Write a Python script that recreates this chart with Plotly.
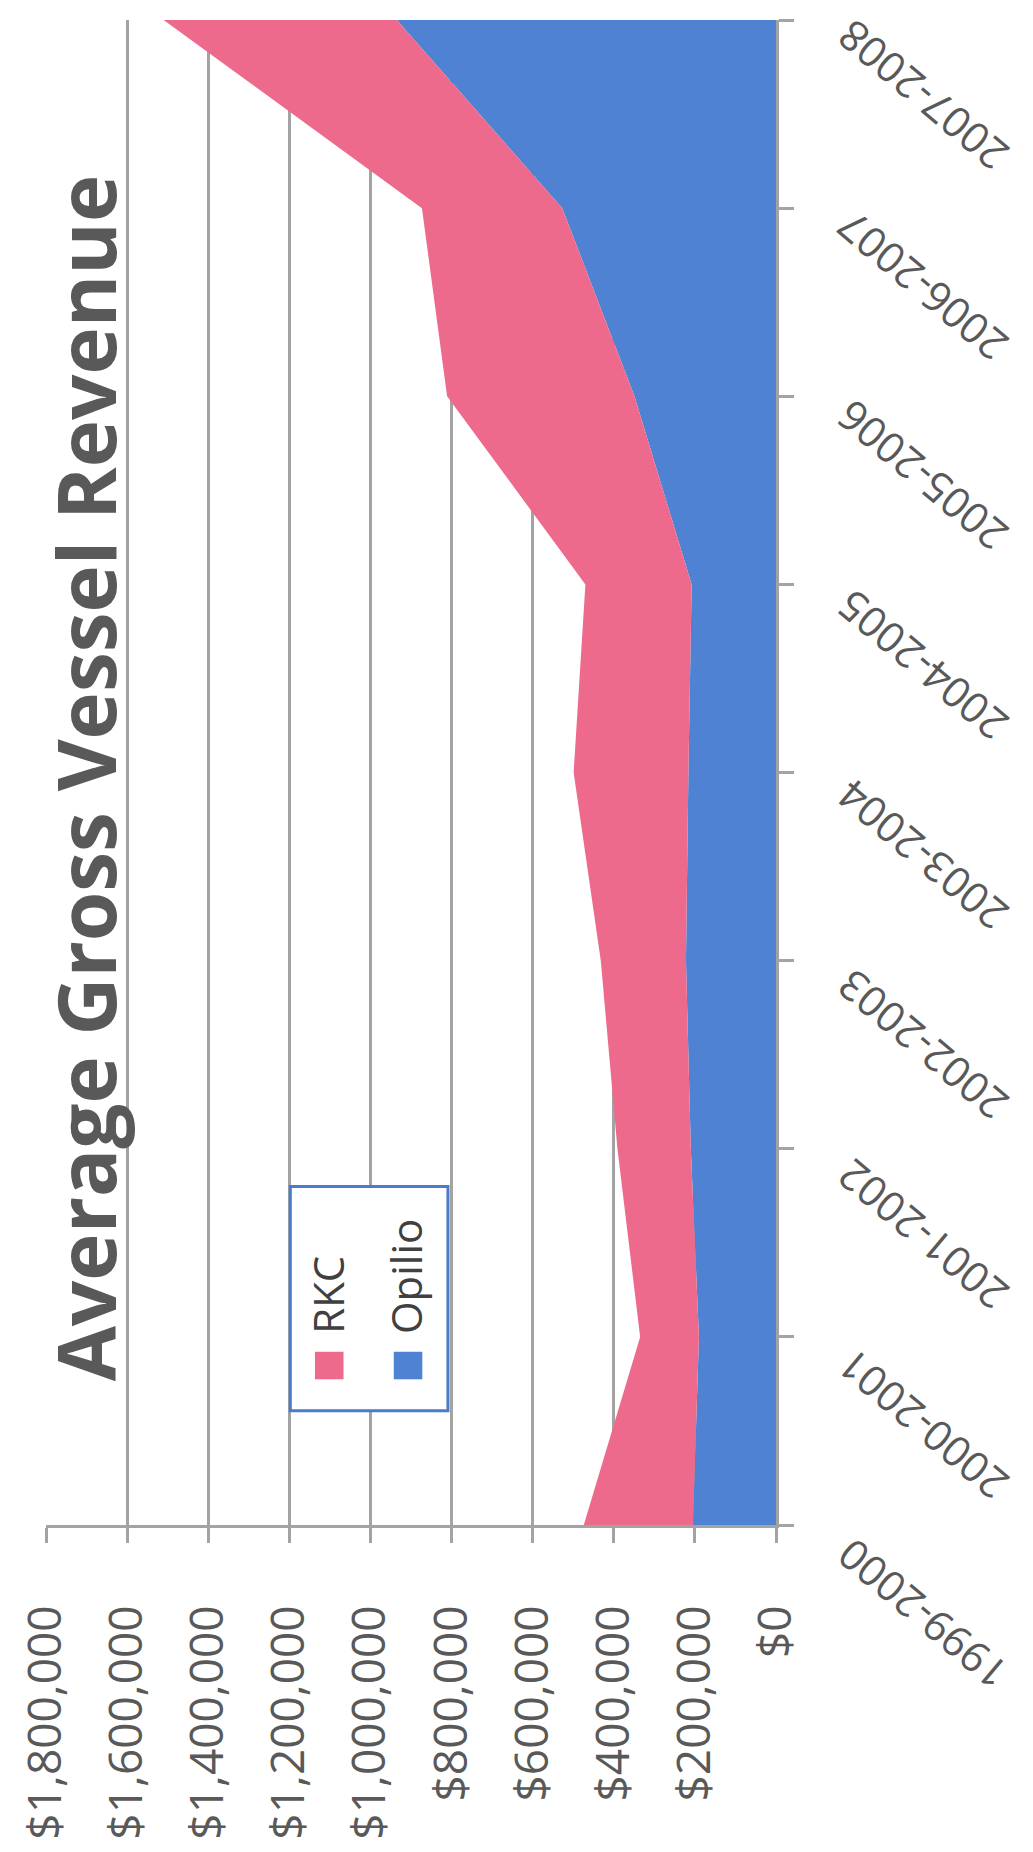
import plotly.graph_objects as go

# Seasons (category axis) and average gross revenue per vessel, in dollars
seasons = ["1999-2000", "2000-2001", "2001-2002", "2002-2003", "2003-2004",
           "2004-2005", "2005-2006", "2006-2007", "2007-2008"]
opilio = [205000, 190000, 210000, 222000, 216000, 208000, 349000, 527000, 935000]
rkc = [269000, 145000, 181000, 210000, 283000, 262000, 462000, 346000, 575000]

value_ticks = [0, 200000, 400000, 600000, 800000, 1000000, 1200000, 1400000, 1600000, 1800000]

PINK = "#EE6A8D"
BLUE = "#4F82D3"
GRID = "#A3A3A3"
TEXT = "#595959"
FONT = "Open Sans"

W, H = 1033, 1852
# plot area edges in page pixels
PL, PR, PT, PB = 35, 776, 20, 1549


def px(x):
    return (x - PL) / (PR - PL)


def py(y):
    return (PB - y) / (PB - PT)


fig = go.Figure()
fig.add_trace(go.Scatter(
    x=opilio, y=seasons, name="Opilio", orientation="h", stackgroup="rev",
    mode="lines", line=dict(width=0, color=BLUE), fillcolor=BLUE,
    showlegend=False,
))
fig.add_trace(go.Scatter(
    x=rkc, y=seasons, name="RKC", orientation="h", stackgroup="rev",
    mode="lines", line=dict(width=0, color=PINK), fillcolor=PINK,
    showlegend=False,
))

fig.update_layout(
    width=W, height=H,
    margin=dict(l=PL, r=W - PR, t=PT, b=H - PB, pad=0),
    paper_bgcolor="white", plot_bgcolor="white",
    font=dict(family=FONT, color=TEXT),
    showlegend=False,
    xaxis=dict(
        range=[1800000, 0], tickvals=value_ticks, tickformat="$,.0f",
        tickangle=-90, tickfont=dict(size=46, color=TEXT, family=FONT),
        ticks="outside", ticklen=15, tickwidth=3, tickcolor=GRID,
        ticklabelstandoff=44,
        showgrid=True, gridcolor=GRID, gridwidth=3,
        showline=True, linecolor=GRID, linewidth=3,
        zeroline=False, fixedrange=True,
    ),
    yaxis=dict(
        type="category", categoryorder="array", categoryarray=seasons,
        range=[0, len(seasons) - 1], side="right",
        showticklabels=False, ticks="outside", ticklen=15, tickwidth=3,
        tickcolor=GRID, showgrid=False,
        showline=True, linecolor=GRID, linewidth=3,
        zeroline=False, fixedrange=True,
    ),
)

# rotated season labels beside the category axis
n = len(seasons)
for i, s in enumerate(seasons):
    fig.add_annotation(
        xref="paper", yref="y", x=1, y=s, xshift=146,
        yshift=-76 - 14 * (n - 1 - i) / (n - 1),
        text=s, textangle=-140, showarrow=False,
        xanchor="center", yanchor="middle",
        font=dict(size=42, color=TEXT, family=FONT),
    )

# chart title, running up the left side
fig.add_annotation(
    xref="paper", yref="paper", x=px(74), y=py(790),
    text="<b>Average Gross Vessel Revenue</b>", textangle=-90, showarrow=False,
    xanchor="center", yanchor="middle",
    font=dict(size=80, color=TEXT, family=FONT),
)

# legend box with swatches and rotated labels
fig.add_shape(type="rect", xref="paper", yref="paper",
              x0=px(283), x1=px(443), y0=py(1433), y1=py(1205),
              fillcolor="white", line=dict(color="#4A7CCB", width=3), layer="above")
legend_items = [("RKC", PINK, 308, 320), ("Opilio", BLUE, 388, 400)]
for label, col, sx, tx in legend_items:
    fig.add_shape(type="rect", xref="paper", yref="paper",
                  x0=px(sx), x1=px(sx + 29), y0=py(1401), y1=py(1373),
                  fillcolor=col, line=dict(width=0), layer="above")
    fig.add_annotation(
        xref="paper", yref="paper", x=px(tx), y=py(1357),
        text=label, textangle=-90, showarrow=False,
        xanchor="center", yanchor="bottom",
        font=dict(size=42, color="#404040", family=FONT),
    )

fig.write_html("out.html", config={"displayModeBar": False})
